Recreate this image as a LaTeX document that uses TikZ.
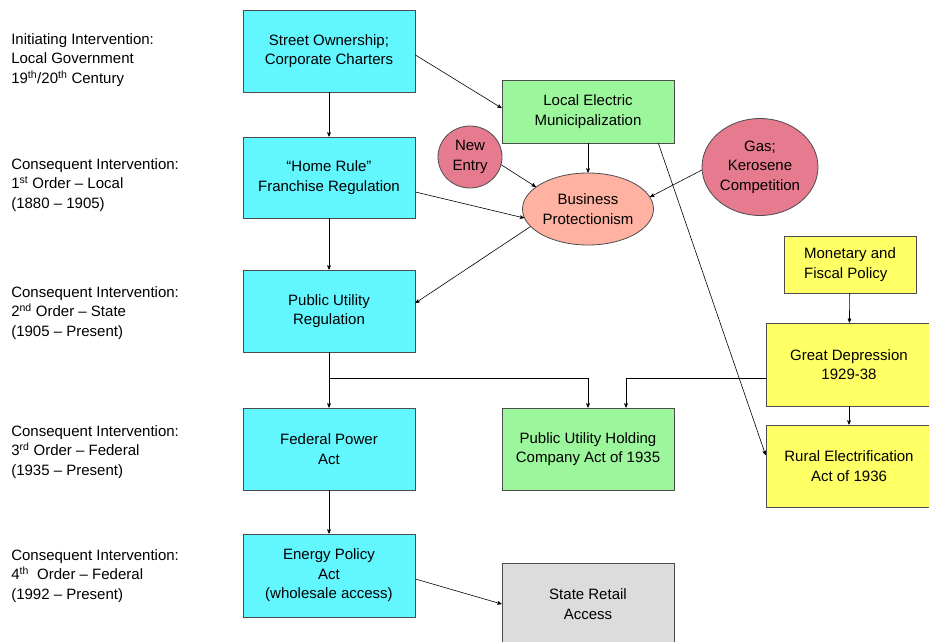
\documentclass[tikz,border=0pt]{standalone}
\usepackage{fontspec}
\setmainfont{Liberation Sans}
\usepackage{xcolor}
\usepackage{tikz}
\usetikzlibrary{
    positioning,
    arrows,
    shapes.geometric
}
\definecolor{cyanbox}{HTML}{62F6FF}
\definecolor{greenbox}{HTML}{9CF69C}
\definecolor{yellowbox}{HTML}{FFFF66}
\definecolor{greybox}{HTML}{DCDCDC}
\definecolor{salmon}{HTML}{FFB2A2}
\definecolor{rosy}{HTML}{E67B8F}

\begin{document}
\begin{tikzpicture}[->,>=stealth',x=1pt,y=-1pt,semithick,
    every node/.style={font=\fontsize{15}{19.5}\selectfont, align=center}]
    \tikzstyle{box}=[rectangle, draw=black!70, line width=0.8pt, minimum width=172pt, inner sep=0pt]
    \tikzstyle{blob}=[ellipse, draw=black!70, line width=0.8pt, inner sep=0pt]
    \tikzstyle{era}=[anchor=west, align=left, inner sep=0pt]
    \useasboundingbox (0,0) rectangle (929,642);
    % left column labels
    \node[era] (l0) at (11, 60) {Initiating Intervention:\\Local Government\\19\textsuperscript{th}/20\textsuperscript{th} Century};
    \node[era] (l1) at (11, 185) {Consequent Intervention:\\1\textsuperscript{st} Order -- Local\\(1880 -- 1905)};
    \node[era] (l2) at (11, 313) {Consequent Intervention:\\2\textsuperscript{nd} Order -- State\\(1905 -- Present)};
    \node[era] (l3) at (11, 452) {Consequent Intervention:\\3\textsuperscript{rd} Order -- Federal\\(1935 -- Present)};
    \node[era] (l4) at (11, 576) {Consequent Intervention:\\4\textsuperscript{th}\ \ Order -- Federal\\(1992 -- Present)};
    % interventions
    \node[box, fill=cyanbox, minimum height=82pt] (so) at (329, 51) {Street Ownership;\\Corporate Charters};
    \node[box, fill=cyanbox, minimum height=81pt] (hr) at (329, 177.5) {“Home Rule”\\Franchise Regulation};
    \node[box, fill=cyanbox, minimum height=82pt] (pur) at (329, 311) {Public Utility\\Regulation};
    \node[box, fill=cyanbox, minimum height=82pt] (fpa) at (329, 449) {Federal Power\\Act};
    \node[box, fill=cyanbox, minimum height=83pt] (epa) at (329, 575.5) {Energy Policy\\Act\\(wholesale access)};
    \node[box, fill=greenbox, minimum height=63pt] (lem) at (588, 111.5) {Local Electric\\Municipalization};
    \node[box, fill=greenbox, minimum height=82pt] (puh) at (588, 449) {Public Utility Holding\\Company Act of 1935};
    \node[box, fill=greybox, minimum height=82pt] (sra) at (588, 604) {State Retail\\Access};
    \node[blob, fill=rosy, minimum width=64pt, minimum height=62pt] (ne) at (470, 157) {New\\Entry};
    \node[blob, fill=salmon, minimum width=131pt, minimum height=72pt] (bp) at (588, 209) {Business\\Protectionism};
    \node[blob, fill=rosy, minimum width=116pt, minimum height=97pt] (gas) at (760, 167) {Gas;\\Kerosene\\Competition};
    \node[box, fill=yellowbox, minimum width=132pt, minimum height=57pt, align=left] (mfp) at (850, 264.5) {Monetary and\\Fiscal Policy};
    \node[box, fill=yellowbox, minimum width=166pt, minimum height=83pt] (gd) at (849, 364.5) {Great Depression\\1929-38};
    \node[box, fill=yellowbox, minimum width=166pt, minimum height=82pt] (re) at (849, 466) {Rural Electrification\\Act of 1936};
    \coordinate (br) at (329, 378);
    % connectors
    \path (so) edge (hr);
    \path (hr) edge (pur);
    \path (pur) edge (fpa);
    \path (fpa) edge (epa);
    \path ([yshift=-4pt]so.east) edge ([yshift=3.5pt]lem.west);
    \path ([yshift=-14.5pt]hr.east) edge (bp.188);
    \path (ne.-14) edge (bp.157);
    \path (lem) edge (bp);
    \path (gas.183) edge (bp.11);
    \path (bp.197) edge ([yshift=8pt]pur.east);
    \path ([xshift=-16pt]lem.south east) edge ([yshift=11pt]re.west);
    \draw (br) -| (puh.north);
    \draw ([yshift=-13.5pt]gd.west) -| ([xshift=38pt]puh.north);
    \path (mfp) edge (gd);
    \path (gd) edge (re);
    \path ([yshift=-3.5pt]epa.east) edge (sra.west);
\end{tikzpicture}
\end{document}
